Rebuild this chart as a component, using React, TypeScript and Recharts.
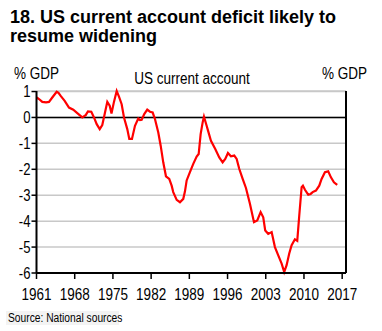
import { CartesianGrid, Line, LineChart, ReferenceLine, XAxis, YAxis } from 'recharts';

// US current account balance, % of GDP
const years = [
  1961.04, 1961.46, 1962.06, 1962.74, 1963.29, 1963.89, 1964.7, 1965.03, 1965.43, 1966.16,
  1966.95, 1967.74, 1968.47, 1969.39, 1970.01, 1970.43, 1971.04, 1971.53, 1972.03, 1972.58,
  1973.05, 1973.49, 1973.97, 1974.41, 1974.74, 1975.19, 1975.69, 1976.11, 1976.6, 1977.03,
  1977.63, 1978.0, 1978.49, 1979.04, 1979.64, 1979.96, 1980.27, 1980.74, 1981.29, 1981.79,
  1982.28, 1982.7, 1983.31, 1983.75, 1984.22, 1984.72, 1985.32, 1985.76, 1986.05, 1986.68,
  1987.28, 1987.89, 1988.2, 1988.51, 1989.11, 1989.72, 1990.34, 1990.71, 1991.07, 1991.44,
  1991.68, 1992.17, 1992.41, 1992.96, 1993.75, 1994.48, 1995.1, 1995.58, 1996.07, 1996.62,
  1997.23, 1997.67, 1998.14, 1998.77, 1999.37, 2000.1, 2000.84, 2001.44, 2002.06, 2002.54,
  2002.9, 2003.45, 2004.08, 2004.68, 2005.29, 2005.91, 2006.38, 2006.82, 2007.3, 2007.74,
  2008.34, 2008.77, 2009.13, 2009.57, 2009.81, 2010.18, 2010.78, 2011.22, 2011.59, 2012.19,
  2012.8, 2013.23, 2013.84, 2014.44, 2014.94, 2015.49, 2016.09,
];

const balance = [
  0.77, 0.71, 0.6, 0.58, 0.6, 0.77, 0.99, 0.95, 0.83, 0.64,
  0.38, 0.3, 0.17, 0.0, 0.09, 0.23, 0.22, 0.0, -0.26, -0.45,
  -0.29, 0.13, 0.6, 0.45, 0.15, 0.6, 1.02, 0.8, 0.51, 0.0,
  -0.45, -0.83, -0.83, -0.32, -0.04, -0.1, -0.09, 0.13, 0.3, 0.22,
  0.19, -0.06, -0.58, -1.09, -1.73, -2.27, -2.37, -2.63, -2.88, -3.18,
  -3.27, -3.14, -2.85, -2.43, -2.11, -1.79, -1.51, -1.41, -0.64, -0.19,
  0.03, -0.32, -0.5, -0.9, -1.22, -1.54, -1.73, -1.6, -1.37, -1.5,
  -1.47, -1.6, -1.98, -2.37, -2.72, -3.33, -4.04, -3.97, -3.65, -3.85,
  -4.36, -4.49, -4.42, -5.0, -5.32, -5.64, -5.96, -5.7, -5.25, -4.93,
  -4.7, -4.76, -3.8, -2.69, -2.63, -2.79, -2.98, -2.95, -2.88, -2.82,
  -2.63, -2.37, -2.11, -2.08, -2.31, -2.5, -2.6,
];

const yearTicks = [1961, 1968, 1975, 1982, 1989, 1996, 2003, 2010, 2017];
const valueTicks = [1, 0, -1, -2, -3, -4, -5, -6];

const data = years.map((year, i) => ({ year, value: balance[i] }));

const sans = "'Liberation Sans', Arial, sans-serif";
// no Arial Narrow here, so squeeze the regular face
const SQUEEZE = 0.82;

function NarrowText({ x, y, size, anchor = 'start', children }: any) {
  return (
    <text
      transform={`translate(${x},${y}) scale(${SQUEEZE},1)`}
      fontSize={size}
      textAnchor={anchor}
      fill="#000"
    >
      {children}
    </text>
  );
}

function YearTick({ x, y, payload }: any) {
  return (
    <text
      transform={`translate(${x},${y}) scale(${SQUEEZE},1)`}
      fontSize={16.5}
      textAnchor="middle"
      dy="0.71em"
      fill="#000"
    >
      {payload.value}
    </text>
  );
}

function ValueTick({ x, y, payload, textAnchor }: any) {
  return (
    <text
      transform={`translate(${x},${y}) scale(${SQUEEZE},1)`}
      fontSize={16}
      textAnchor={textAnchor}
      dy="0.355em"
      fill="#000"
    >
      {payload.value}
    </text>
  );
}

export default function App() {
  return (
    <div
      style={{
        position: 'absolute',
        left: 0,
        top: 0,
        width: 382,
        height: 331,
        background: '#fff',
        fontFamily: sans,
      }}
    >
      <div
        style={{
          position: 'absolute',
          left: 10,
          top: 8,
          fontSize: 18,
          lineHeight: '19px',
          fontWeight: 'bold',
          color: '#000',
        }}
      >
        18. US current account deficit likely to
        <br />
        resume widening
      </div>
      <LineChart
        width={382}
        height={331}
        data={data}
        margin={{ top: 91, right: 0, bottom: 0, left: 0 }}
      >
        <CartesianGrid vertical={false} stroke="#c8c8c8" strokeWidth={1.5} yAxisId="left" />
        <XAxis
          dataKey="year"
          type="number"
          domain={[1961, 2017.7]}
          ticks={yearTicks}
          allowDataOverflow
          height={58}
          tickSize={6}
          tickMargin={9}
          axisLine={{ stroke: '#000', strokeWidth: 2 }}
          tickLine={{ stroke: '#000', strokeWidth: 1.5 }}
          tick={<YearTick />}
        />
        <YAxis
          yAxisId="left"
          domain={[-6, 1]}
          ticks={valueTicks}
          width={36.5}
          tickSize={5}
          tickMargin={1}
          axisLine={{ stroke: '#000', strokeWidth: 2 }}
          tickLine={{ stroke: '#000', strokeWidth: 1.5 }}
          tick={<ValueTick />}
        />
        <YAxis
          yAxisId="right"
          orientation="right"
          domain={[-6, 1]}
          ticks={valueTicks}
          width={36}
          tickSize={5}
          tickMargin={8}
          axisLine={{ stroke: '#000', strokeWidth: 2 }}
          tickLine={{ stroke: '#000', strokeWidth: 1.5 }}
          tick={<ValueTick />}
        />
        <ReferenceLine yAxisId="left" y={0} stroke="#000" strokeWidth={1.5} />
        <Line
          yAxisId="left"
          dataKey="value"
          type="linear"
          stroke="#ff0000"
          strokeWidth={2.2}
          dot={false}
          isAnimationActive={false}
        />
      </LineChart>
      <svg
        width={382}
        height={331}
        style={{ position: 'absolute', left: 0, top: 0, pointerEvents: 'none' }}
      >
        <NarrowText x={14} y={78.5} size={16.5}>
          % GDP
        </NarrowText>
        <NarrowText x={192} y={84} size={16.5} anchor="middle">
          US current account
        </NarrowText>
        <NarrowText x={367} y={78.5} size={16.5} anchor="end">
          % GDP
        </NarrowText>
        <rect x={6} y={311} width={113} height={14} fill="#f3f3f3" />
        <NarrowText x={8} y={322} size={12.5}>
          Source: National sources
        </NarrowText>
      </svg>
    </div>
  );
}
